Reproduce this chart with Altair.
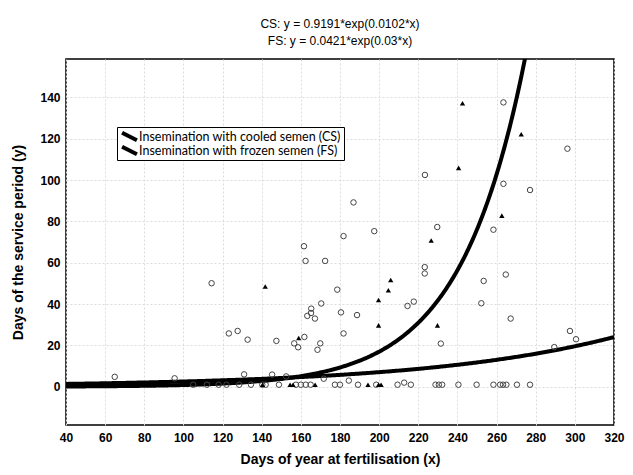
import altair as alt
import numpy as np
import pandas as pd

# Cooled semen (CS) observations - open circles
cs_x = [64.9, 95.5, 114.4, 123.2, 127.7, 132.8, 131.0, 145.3, 147.5, 152.5,
        156.6, 158.6, 161.8, 161.6, 162.4, 172.4, 181.8, 178.6, 170.4, 165.3,
        165.2, 163.3, 167.2, 180.5, 181.8, 169.9, 168.5, 171.7, 184.5, 186.9,
        197.5, 223.4, 229.7, 223.3, 223.3, 188.7, 214.5, 217.7, 231.5, 263.5,
        296.2, 263.5, 277.1, 258.4, 264.7, 253.4, 252.2, 267.2, 297.5, 300.6,
        289.5,
        105.0, 112.0, 118.0, 122.0, 128.5, 134.5, 140.3, 142.0, 148.8, 157.5,
        160.0, 162.5, 165.0, 177.4, 180.0, 189.2, 198.5, 209.4, 212.8, 216.2,
        228.8, 230.5, 232.2, 240.5, 249.8, 258.4, 261.8, 263.3, 265.0, 270.4,
        277.1]
cs_y = [4.8, 4.1, 50.1, 25.8, 27.0, 22.8, 6.0, 5.9, 22.2, 5.0,
        21.0, 19.1, 24.1, 68.0, 60.9, 60.9, 72.9, 47.0, 40.3, 37.8,
        35.7, 34.3, 33.0, 36.0, 25.8, 21.0, 17.9, 3.9, 3.0, 89.2,
        75.3, 102.5, 77.3, 57.9, 54.8, 34.7, 39.1, 41.2, 20.9, 137.6,
        115.2, 98.2, 95.2, 76.0, 54.3, 51.2, 40.4, 33.0, 27.0, 23.0,
        19.2,
        1, 1, 1, 1, 1, 1, 1, 1, 1, 1,
        1, 1, 1, 1, 1, 1, 1, 1, 2, 1,
        1, 1, 1, 1, 1, 1, 1, 1, 1, 1,
        1]

# Frozen semen (FS) observations - filled triangles
fs_x = [141.8, 158.9, 242.6, 240.6, 226.6, 205.9, 204.7, 199.7, 199.7, 229.8,
        272.6, 262.7, 140.4, 154.5, 156.0, 167.3, 194.3, 199.7, 201.0]
fs_y = [48.5, 23.6, 137.2, 105.9, 70.8, 51.7, 46.7, 42.0, 29.7, 29.7,
        122.2, 82.8, 1, 1, 1, 1, 1, 1, 1]

# Fitted curves (from the chart's title)
cs_a, cs_b = 0.9191, 0.0102
fs_a, fs_b = 0.0421, 0.03
legend_labels = ["Insemination with cooled semen (CS)",
                 "Insemination with frozen semen (FS)"]
x_ticks = list(range(40, 321, 20))
y_ticks = list(range(0, 141, 20))

xs = np.linspace(40, 320, 400)
curve_df = pd.concat([
    pd.DataFrame({"x": xs, "y": cs_a * np.exp(cs_b * xs), "model": legend_labels[0]}),
    pd.DataFrame({"x": xs, "y": fs_a * np.exp(fs_b * xs), "model": legend_labels[1]}),
])
curve_df = curve_df[curve_df["y"] <= 175]

cs_df = pd.DataFrame({"x": cs_x, "y": cs_y})
fs_df = pd.DataFrame({"x": fs_x, "y": fs_y})

xscale = alt.Scale(domain=[40, 320], nice=False, zero=False)
yscale = alt.Scale(domain=[-18.5, 158.6], nice=False, zero=False)

xaxis = alt.Axis(title="Days of year at fertilisation (x)",
                 values=x_ticks, labelFlush=False, labelOverlap=False)
yaxis = alt.Axis(title="Days of the service period (y)",
                 values=y_ticks, labelOverlap=False)

lines = alt.Chart(curve_df).mark_line(strokeWidth=4, clip=True).encode(
    x=alt.X("x:Q", scale=xscale, axis=xaxis),
    y=alt.Y("y:Q", scale=yscale, axis=yaxis),
    color=alt.Color("model:N",
                    scale=alt.Scale(domain=legend_labels, range=["black", "black"]),
                    legend=alt.Legend(title=None, orient="none", legendX=51, legendY=68,
                                      symbolType="M-1,-0.5L1,0.5", symbolStrokeWidth=4,
                                      symbolSize=220, symbolStrokeColor="black",
                                      clipHeight=13,
                                      labelFont="Lato", labelFontSize=12.5, labelColor="black",
                                      labelLimit=400, rowPadding=1, labelOffset=0,
                                      strokeColor="black", fillColor="white", padding=3)),
    detail="model:N",
)

circles = alt.Chart(cs_df).mark_point(
    shape="circle", filled=False, size=30, stroke="#444444", strokeWidth=1, opacity=1
).encode(x=alt.X("x:Q", scale=xscale, axis=xaxis), y=alt.Y("y:Q", scale=yscale, axis=yaxis))

triangles = alt.Chart(fs_df).mark_point(
    shape="triangle-up", filled=True, size=28, color="black", opacity=1
).encode(x=alt.X("x:Q", scale=xscale, axis=xaxis), y=alt.Y("y:Q", scale=yscale, axis=yaxis))

chart = alt.layer(lines, circles, triangles).properties(
    width=548, height=366,
    title=alt.TitleParams(text=["CS: y = 0.9191*exp(0.0102*x)", "FS: y = 0.0421*exp(0.03*x)"],
                          font="Liberation Sans", fontSize=12, fontWeight="normal",
                          lineHeight=17, anchor="middle", offset=11, color="black"),
    autosize=alt.AutoSizeParams(type="none"),
    padding={"left": 58, "top": 51, "right": 11, "bottom": 42},
).configure_view(stroke="black", strokeWidth=1.5).configure_axis(
    labelFont="Liberation Sans", labelFontSize=12, labelFontWeight="bold", labelColor="black",
    titleFont="Liberation Sans", titleFontSize=14, titleFontWeight="bold", titleColor="black",
    ticks=False, domain=False, grid=True, gridColor="#dcdcdc", gridDash=[2, 2], gridWidth=1,
    labelOverlap=False,
).configure_axisX(labelPadding=7, titlePadding=9).configure_axisY(labelPadding=6, titlePadding=14)

chart.save("out.html", embed_options={"renderer": "svg", "actions": False})
